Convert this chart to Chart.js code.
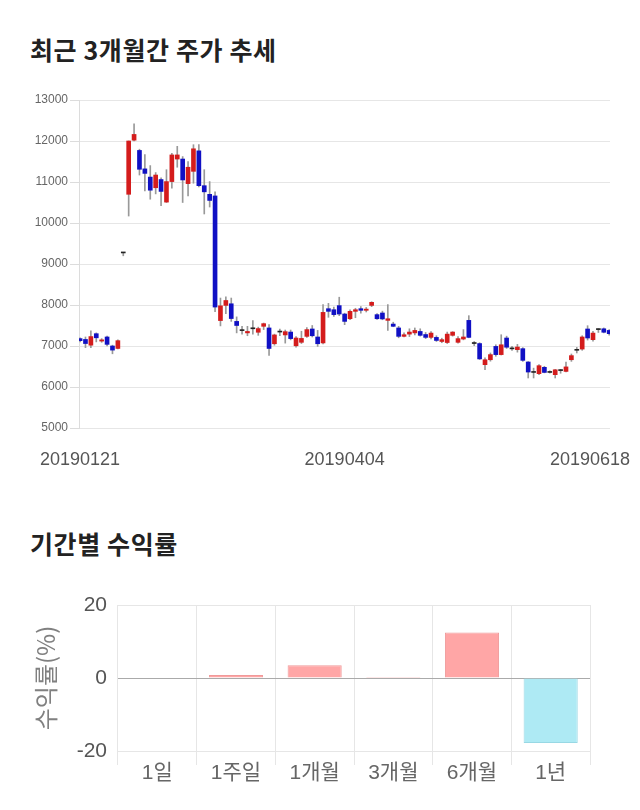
<!DOCTYPE html>
<html>
<head>
<meta charset="utf-8">
<script src="https://cdn.jsdelivr.net/npm/chart.js@4.4.1/dist/chart.umd.min.js"></script>
<style>
  body { margin: 0; background: #fff; width: 640px; height: 810px; position: relative; overflow: hidden; }
  .title { position: absolute; left: 30px; font: bold 25px 'Noto Sans CJK KR', sans-serif; line-height: 25px; letter-spacing: 0.6px; color: #222; }
  #box1 { position: absolute; left: 0; top: 85px; width: 640px; height: 400px; }
  #box2 { position: absolute; left: 0; top: 590px; width: 640px; height: 210px; }
</style>
</head>
<body>
<div class="title" style="top:37px">최근 3개월간 주가 추세</div>
<div id="box1"><canvas id="priceChart"></canvas></div>
<div class="title" style="top:531px">기간별 수익률</div>
<div id="box2"><canvas id="returnChart"></canvas></div>
<script>
// 일봉 (시가/고가/저가/종가), 2019-01-21 ~ 2019-06-18
const openP = [7180,7160,7020,7300,7120,7220,7000,6940,9270,10700,
  12020,11770,11320,11120,10860,11060,10510,11010,11560,11560,
  10960,11260,11760,10910,10700,10660,7620,7990,8030,7600,
  7375,7320,7420,7335,7480,7440,7055,7340,7270,7340,
  7005,7090,7235,7415,7220,7075,7910,7885,7985,7780,
  7665,7845,7910,7870,7990,7765,7805,7625,7535,7440,
  7235,7290,7320,7355,7280,7210,7210,7110,7085,7260,
  7090,7170,7625,7060,7060,6545,6665,6990,6790,7195,
  6930,6910,6935,6610,6355,6325,6480,6355,6300,6400,
  6380,6665,6895,6925,7415,7155,7400,7420,7380];
const highP = [7200,7220,7370,7320,7180,7240,7020,7150,9270,12000,
  12420,11800,11670,11400,11230,11100,11300,11700,11870,11620,
  11500,11910,11910,11300,11010,10760,8170,8200,8170,7710,
  7480,7480,7620,7460,7560,7520,7290,7410,7390,7390,
  7230,7360,7450,7500,7380,8010,8040,7950,8190,7800,
  7880,7920,7960,7940,8080,7790,7850,8010,7580,7480,
  7320,7420,7440,7420,7330,7350,7250,7190,7340,7350,
  7230,7400,7740,7110,7080,6710,6830,7030,7275,7240,
  6990,7040,6960,6620,6460,6545,6505,6395,6430,6430,
  6610,6805,6965,7250,7495,7355,7420,7440,7400];
const lowP = [7100,6960,6960,7100,7090,7000,6810,6930,9200,10170,
  12000,11170,10780,10580,10710,10420,10500,10850,11360,10500,
  10660,10970,10880,10220,10390,7840,7490,7790,7600,7320,
  7290,7250,7290,7260,7400,6770,7020,7250,7070,7150,
  6970,7060,7210,7220,6990,7050,7700,7720,7740,7520,
  7640,7690,7800,7830,7960,7650,7640,7380,7470,7200,
  7220,7230,7270,7240,7180,7170,7110,7080,7060,7240,
  7070,7150,7200,7010,6670,6420,6630,6750,6780,6940,
  6890,6850,6625,6220,6220,6300,6345,6340,6220,6335,
  6365,6625,6830,6895,7145,7120,7330,7320,7265];
const closeP = [7130,7060,7230,7200,7150,7040,6900,7130,9270,12000,
  12160,11310,11210,10800,11170,10770,11010,11660,11660,11050,
  11360,11810,10910,10760,10550,7950,7980,8110,7670,7500,
  7375,7355,7420,7425,7545,6940,7270,7340,7350,7180,
  7195,7185,7400,7250,7055,7820,7845,7765,7780,7600,
  7845,7885,7870,7900,8065,7665,7660,7665,7480,7235,
  7275,7340,7380,7260,7210,7315,7135,7155,7290,7340,
  7180,7220,7210,7060,6685,6665,6790,6790,7030,6970,
  6930,6975,6650,6365,6355,6520,6355,6355,6420,6400,
  6490,6765,6895,7220,7195,7315,7400,7335,7300];
const dateTicks = ['20190121', '20190404', '20190618'];
const dateTickIdx = [0, 49, 98];

// 기간별 수익률
const periods = ['1일', '1주일', '1개월', '3개월', '6개월', '1년'];
const returns = [0, 0.8, 3.5, 0.3, 12.5, -17.8];

const UP = '#d41c1c', DOWN = '#1010c4', FLAT = '#222';
const bodyColors = openP.map((o, i) => closeP[i] > o ? UP : (closeP[i] < o ? DOWN : FLAT));

// 날짜 라벨: 마지막 라벨은 캔버스 안으로 밀어 넣음
const dateLabels = {
  id: 'dateLabels',
  afterDraw(chart) {
    const { ctx, chartArea } = chart;
    const x = chart.scales.x;
    ctx.save();
    ctx.font = '18px "Liberation Sans", Arial, sans-serif';
    ctx.fillStyle = '#555';
    ctx.textAlign = 'center';
    ctx.textBaseline = 'middle';
    dateTicks.forEach((t, k) => {
      const w = ctx.measureText(t).width;
      let px = x.getPixelForValue(dateTickIdx[k]);
      px = Math.min(Math.max(px, w / 2 + 10), chart.width - w / 2 - 10);
      ctx.fillText(t, px, chartArea.bottom + 32);
    });
    ctx.restore();
  }
};

new Chart(document.getElementById('priceChart').getContext('2d'), {
  type: 'bar',
  data: {
    datasets: [
      {
        label: 'body',
        data: openP.map((o, i) => ({ x: i, y: [o, closeP[i]] })),
        backgroundColor: bodyColors,
        barThickness: 4,
        minBarLength: 1,
        grouped: false,
        order: 0
      },
      {
        label: 'wick',
        data: lowP.map((l, i) => ({ x: i, y: [l, highP[i]] })),
        backgroundColor: '#999',
        barThickness: 1,
        grouped: false,
        order: 1
      }
    ]
  },
  options: {
    responsive: true,
    maintainAspectRatio: false,
    animation: false,
    layout: { padding: { left: 0, right: 30, top: 15, bottom: 57 } },
    plugins: { legend: { display: false }, tooltip: { enabled: false } },
    scales: {
      x: { type: 'linear', min: -0.2, max: 98.15, offset: false, display: false },
      y: {
        min: 5000,
        max: 13000,
        ticks: { stepSize: 1000, color: '#666', padding: 2, callback: v => String(v), font: { size: 12, family: '"Liberation Sans", Arial, sans-serif' } },
        grid: { color: '#e6e6e6', tickLength: 9, tickColor: '#dcdcdc' },
        border: { color: '#dcdcdc' },
        afterFit: s => { s.width = 79; }
      }
    }
  },
  plugins: [dateLabels]
});

new Chart(document.getElementById('returnChart').getContext('2d'), {
  type: 'bar',
  data: {
    labels: periods,
    datasets: [{
      data: returns,
      backgroundColor: returns.map(v => v >= 0 ? '#ffa6a6' : '#aeeaf4'),
      borderColor: returns.map(v => v >= 0 ? '#f09a9a' : '#98d8e4'),
      borderWidth: 1,
      categoryPercentage: 0.8,
      barPercentage: 0.86
    }]
  },
  options: {
    responsive: true,
    maintainAspectRatio: false,
    animation: false,
    layout: { padding: { left: 0, right: 50, top: 15, bottom: 0 } },
    plugins: { legend: { display: false }, tooltip: { enabled: false } },
    scales: {
      x: {
        grid: { offset: true, tickLength: 14, color: c => c.index === periods.length ? 'rgba(0,0,0,0)' : '#e6e6e6' },
        border: { display: false },
        ticks: { color: '#666', padding: -4, font: { size: 21, family: '"Liberation Sans", "Noto Sans CJK KR", sans-serif' } },
        afterFit: s => { s.height = 49; }
      },
      y: {
        min: -20,
        max: 20,
        ticks: { stepSize: 20, color: '#555', padding: 0, font: { size: 21, family: '"Liberation Sans", Arial, sans-serif' } },
        grid: { drawTicks: true, tickLength: 11, tickColor: 'rgba(0,0,0,0)', color: c => c.tick.value === 0 ? '#aaa' : '#e6e6e6' },
        border: { display: false },
        title: { display: true, text: '수익률(%)', color: '#808080', padding: { top: 31, bottom: 0 }, font: { size: 24, family: '"Noto Sans CJK KR", sans-serif' } },
        afterFit: s => { s.width = 118; }
      }
    }
  }
});
</script>
</body>
</html>
